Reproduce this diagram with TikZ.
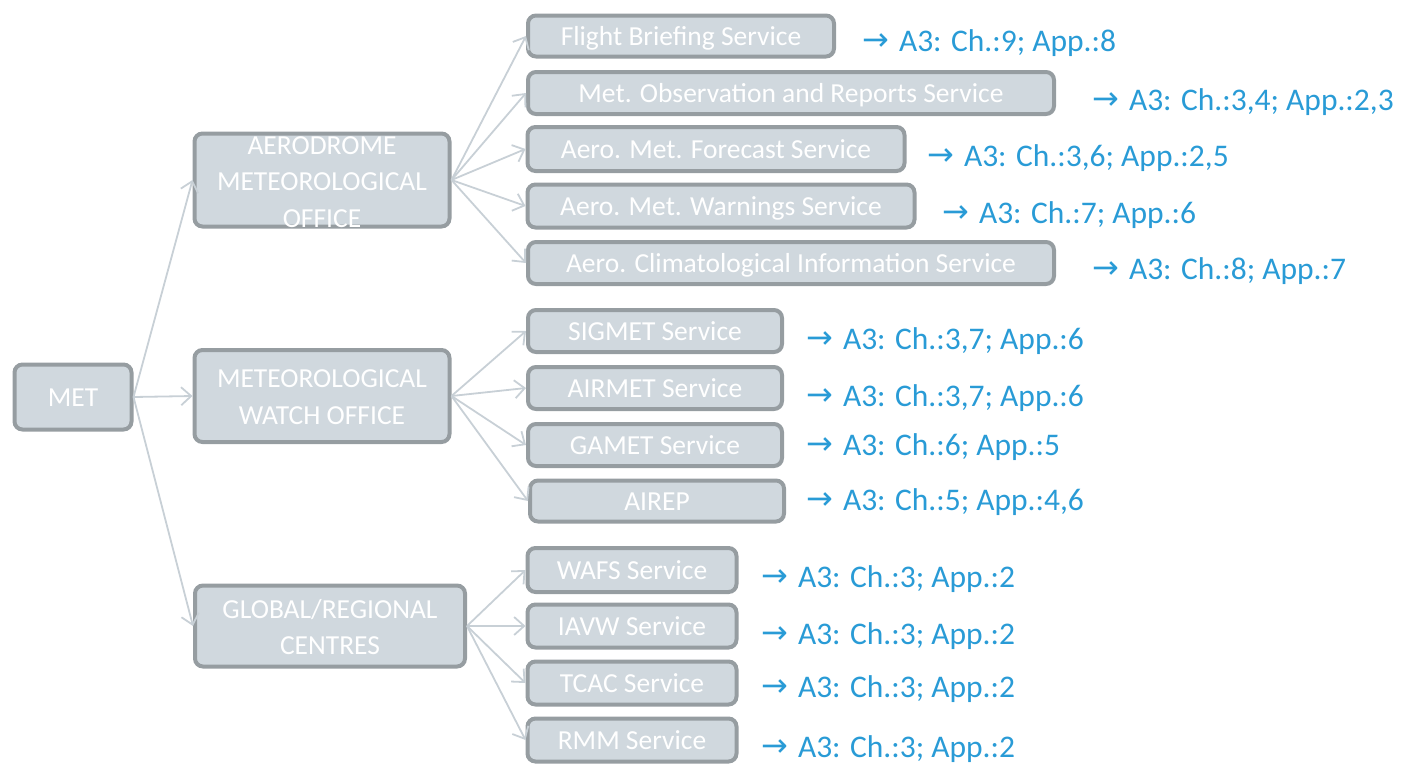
\documentclass[tikz,border=0pt]{standalone}
\usepackage{fontspec}
\setmainfont{Carlito}
\newfontfamily\arrowfont{DejaVu Sans}
\usetikzlibrary{arrows.meta}
\definecolor{boxfill}{RGB}{208,216,222}
\definecolor{boxline}{RGB}{150,157,161}
\definecolor{conn}{RGB}{200,208,214}
\definecolor{reflink}{RGB}{41,155,214}
\tikzset{
  box/.style={draw=boxline, fill=boxfill, line width=4pt, rounded corners=8pt,
    text=white, inner sep=0pt, text height=18pt, text depth=0pt,
    font=\fontsize{27.5}{36.5}\selectfont, align=center},
  boxtext/.style={text=white, inner sep=0pt, font=\fontsize{27.5}{36.5}\selectfont, align=center},
  conn/.style={draw=conn, line width=1.8pt, -{Straight Barb[length=10pt,width=18pt]}},
  ref/.style={text=reflink, inner sep=0pt, anchor=west, text height=19pt, text depth=0pt,
    font=\fontsize{31.5}{36}\selectfont}
}
\newcommand{\rarr}{\raisebox{1.5pt}{\arrowfont\fontsize{32}{34}\selectfont →}\hspace{10pt}}
\begin{document}
\begin{tikzpicture}[x=1pt,y=-1pt]
\useasboundingbox (0,0) rectangle (1401,764);
% level 0
\node[box, minimum width=117pt, minimum height=65pt] (met) at (73,397) {MET};
% level 1
\node[box, minimum width=255pt, minimum height=93pt] (amo) at (322,180) {};
\node[boxtext] (amot) at (322,182) {AERODROME\\METEOROLOGICAL\\OFFICE};
\node[box, minimum width=255pt, minimum height=92pt] (mwo) at (322,396) {};
\node[boxtext] (mwot) at (322,397) {METEOROLOGICAL\\WATCH OFFICE};
\node[box, minimum width=270pt, minimum height=81pt] (grc) at (330,626) {};
\node[boxtext] (grct) at (330,627) {GLOBAL/REGIONAL\\CENTRES};
% level 2
\node[box, minimum width=306pt, minimum height=41pt] (fbs) at (681,36) {Flight Briefing Service};
\node[box, minimum width=526pt, minimum height=42pt] (mors) at (791,93) {Met. Observation and Reports Service};
\node[box, minimum width=377pt, minimum height=44pt] (amfs) at (716,149) {Aero. Met. Forecast Service};
\node[box, minimum width=387pt, minimum height=43pt] (amws) at (721,206) {Aero. Met. Warnings Service};
\node[box, minimum width=526pt, minimum height=42pt] (acis) at (791,263) {Aero. Climatological Information Service};
\node[box, minimum width=254pt, minimum height=42pt] (sig) at (655,331) {SIGMET Service};
\node[box, minimum width=254pt, minimum height=42pt] (air) at (655,388) {AIRMET Service};
\node[box, minimum width=254pt, minimum height=42pt] (gam) at (655,445) {GAMET Service};
\node[box, minimum width=254pt, minimum height=41pt] (arp) at (657,501) {AIREP};
\node[box, minimum width=209pt, minimum height=44pt] (wafs) at (632,570) {WAFS Service};
\node[box, minimum width=209pt, minimum height=43pt] (iavw) at (632,626) {IAVW Service};
\node[box, minimum width=209pt, minimum height=43pt] (tcac) at (632,683) {TCAC Service};
\node[box, minimum width=209pt, minimum height=43pt] (rmm) at (632,740) {RMM Service};
% references
\node[ref] (r1) at (862,42) {\rarr A3: Ch.:9; App.:8};
\node[ref] (r2) at (1092,101) {\rarr A3: Ch.:3,4; App.:2,3};
\node[ref] (r3) at (927,157) {\rarr A3: Ch.:3,6; App.:2,5};
\node[ref] (r4) at (942,214) {\rarr A3: Ch.:7; App.:6};
\node[ref] (r5) at (1092,270) {\rarr A3: Ch.:8; App.:7};
\node[ref] (r6) at (806,340) {\rarr A3: Ch.:3,7; App.:6};
\node[ref] (r7) at (806,397) {\rarr A3: Ch.:3,7; App.:6};
\node[ref] (r8) at (806,446) {\rarr A3: Ch.:6; App.:5};
\node[ref] (r9) at (806,501) {\rarr A3: Ch.:5; App.:4,6};
\node[ref] (r10) at (761,578) {\rarr A3: Ch.:3; App.:2};
\node[ref] (r11) at (761,635) {\rarr A3: Ch.:3; App.:2};
\node[ref] (r12) at (761,688) {\rarr A3: Ch.:3; App.:2};
\node[ref] (r13) at (761,748) {\rarr A3: Ch.:3; App.:2};
% connectors
\foreach \c in {amo,mwo,grc} \draw[conn] (met.east) -- (\c.west);
\foreach \c in {fbs,mors,amfs,amws,acis} \draw[conn] (amo.east) -- (\c.west);
\foreach \c in {sig,air,gam,arp} \draw[conn] (mwo.east) -- (\c.west);
\foreach \c in {wafs,iavw,tcac,rmm} \draw[conn] (grc.east) -- (\c.west);
\end{tikzpicture}
\end{document}
